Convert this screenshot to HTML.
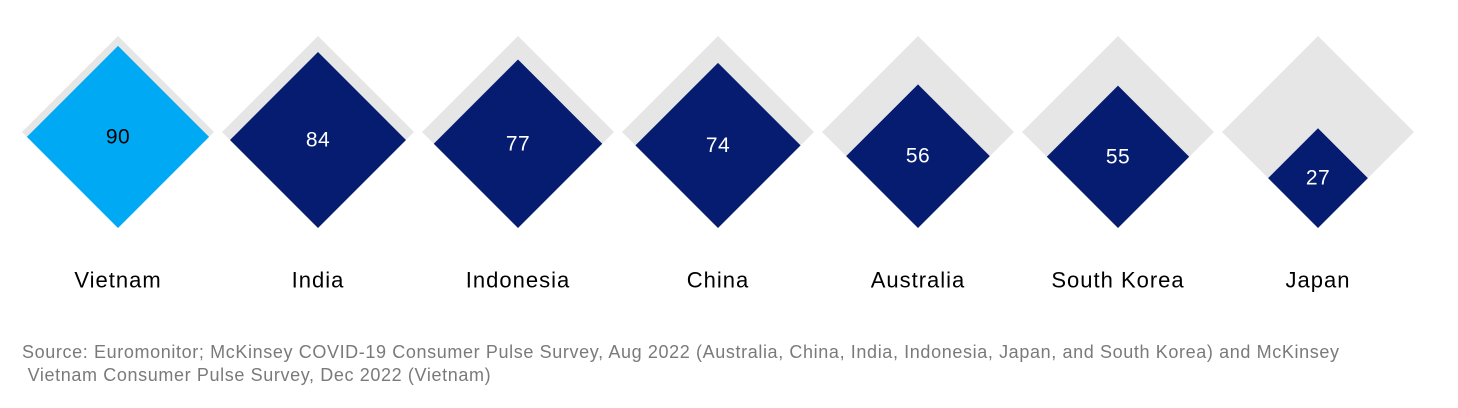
<!DOCTYPE html>
<html><head><meta charset="utf-8"><style>
body{margin:0;background:#fff;width:1458px;height:408px;overflow:hidden;font-family:"Liberation Sans",Arial,sans-serif}
.src{position:absolute;left:22px;top:341px;font-size:18px;letter-spacing:0.62px;line-height:23px;color:#7a7a7a;white-space:nowrap}
</style></head><body>
<svg id="chart" width="1458" height="330" style="position:absolute;left:0;top:0"></svg>
<div class="src">Source: Euromonitor; McKinsey COVID-19 Consumer Pulse Survey, Aug 2022 (Australia, China, India, Indonesia, Japan, and South Korea) and McKinsey<br>&nbsp;Vietnam Consumer Pulse Survey, Dec 2022 (Vietnam)</div>
<script>
const categories=["Vietnam","India","Indonesia","China","Australia","South Korea","Japan"];
const values=[90,84,77,74,56,55,27];
const highlight=["Vietnam"];
const maxValue=100;
const svg=document.getElementById('chart');
const NS='http://www.w3.org/2000/svg';
const x0=118,step=200,baseY=228,maxHalf=96;
function cx(i){return x0+i*step;}
function half(v){return maxHalf*Math.sqrt(v/maxValue);}
function diamond(x,h,fill,name){
  const p=document.createElementNS(NS,'polygon');
  p.setAttribute('points',`${x},${baseY-2*h} ${x+h},${baseY-h} ${x},${baseY} ${x-h},${baseY-h}`);
  p.setAttribute('fill',fill);
  
  
  svg.appendChild(p);
}
function text(x,y,s,size,fill,name,ls){
  const t=document.createElementNS(NS,'text');
  t.setAttribute('x',x);t.setAttribute('y',y);
  t.setAttribute('text-anchor','middle');t.setAttribute('dominant-baseline','central');
  t.setAttribute('font-size',size);t.setAttribute('fill',fill);
  t.setAttribute('letter-spacing',ls);
  t.setAttribute('font-family','Liberation Sans, Arial, sans-serif');
  t.textContent=s;
  
  
  svg.appendChild(t);
}
categories.forEach((c,i)=>{
  const x=cx(i);
  const key=c.toLowerCase().replace(/\s+/g,'-');
  diamond(x,maxHalf,'#e6e6e6','max-diamond-'+key);
  const hl=highlight.includes(c);
  const h=half(values[i]);
  diamond(x,h,hl?'#00a9f4':'#051c71','value-diamond-'+key);
  text(x,baseY-h,String(values[i]),21,hl?'#000':'#fff','value-label-'+key,0.5);
  text(x,280,c,22,'#000','category-label-'+key,1);
});
</script>
</body></html>
